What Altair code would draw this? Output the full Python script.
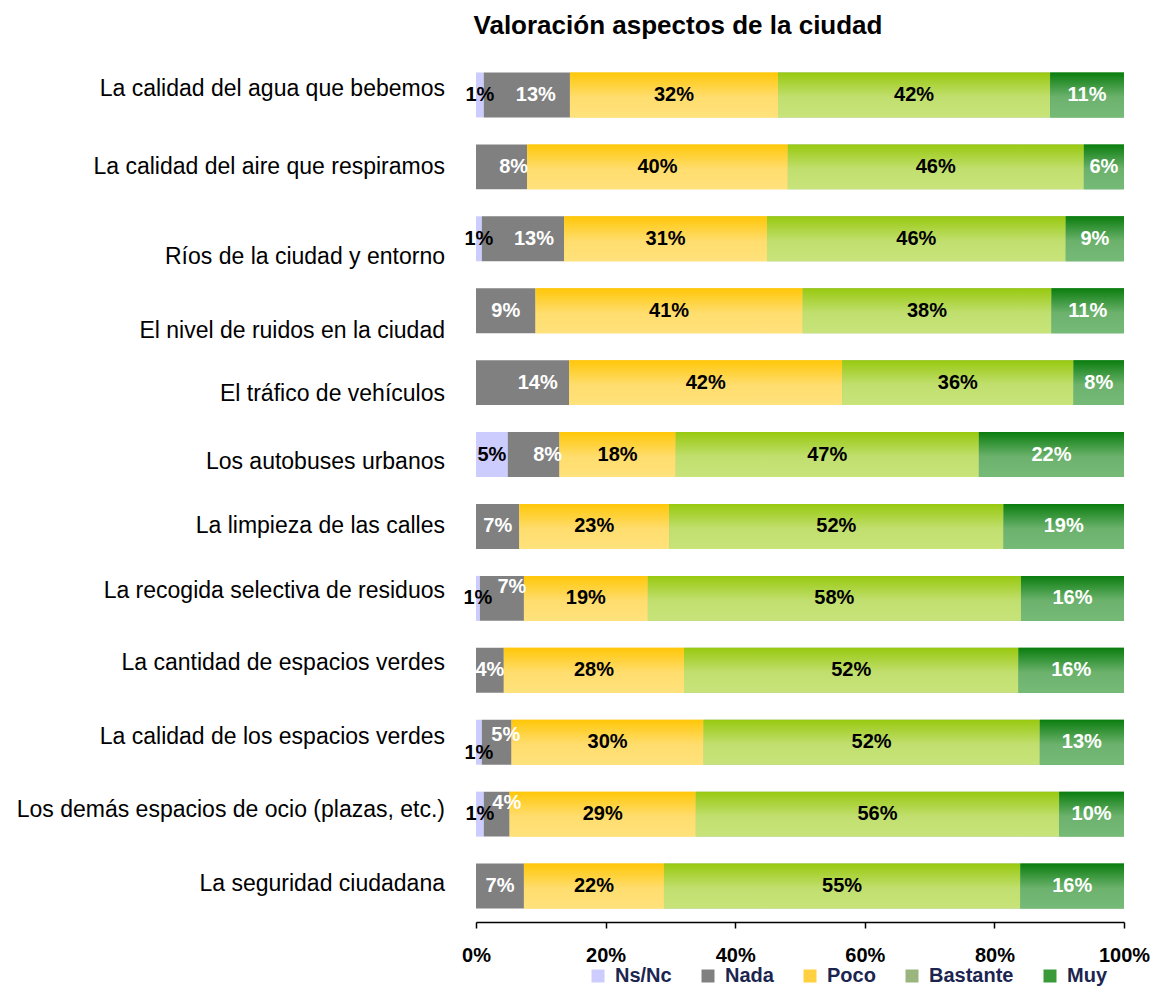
import altair as alt
import pandas as pd

# ---------------- data ----------------
categories = [
    "La calidad del agua que bebemos",
    "La calidad del aire que respiramos",
    "Ríos de la ciudad y entorno",
    "El nivel de ruidos en la ciudad",
    "El tráfico de vehículos",
    "Los autobuses urbanos",
    "La limpieza de las calles",
    "La recogida selectiva de residuos",
    "La cantidad de espacios verdes",
    "La calidad de los espacios verdes",
    "Los demás espacios de ocio (plazas, etc.)",
    "La seguridad ciudadana",
]
series = ["Ns/Nc", "Nada", "Poco", "Bastante", "Muy"]
ns_nc = [1.2, 0.0, 0.9, 0.0, 0.0, 4.9, 0.0, 0.6, 0.0, 0.9, 1.2, 0.0]
nada = [13.3, 7.9, 12.7, 9.2, 14.4, 8.0, 6.7, 6.8, 4.3, 4.6, 4.0, 7.4]
poco = [32.1, 40.2, 31.3, 41.2, 42.1, 17.9, 23.1, 19.1, 27.8, 29.6, 28.7, 21.6]
bastante = [42.0, 45.7, 46.1, 38.4, 35.7, 46.8, 51.6, 57.6, 51.6, 51.9, 56.1, 55.0]
muy = [11.4, 6.2, 9.0, 11.2, 7.8, 22.4, 18.6, 15.9, 16.3, 13.0, 10.0, 16.0]
tick_values = [0, 20, 40, 60, 80, 100]
title_text = "Valoración aspectos de la ciudad"

# ---------------- styling ----------------
FONT = "Liberation Sans"
legend_colors = ["#CCCCFF", "#808080", "#FFD040", "#9BB57F", "#3A9A3A"]
gradients = {
    "Poco": ["#FFC708", "#FFDD6E", "#FFE27C"],
    "Bastante": ["#98C90F", "#C1DF6F", "#C8E47A"],
    "Muy": ["#0A7D0E", "#6CB26D", "#76BA78"],
}
white_series = ["Nada", "Muy"]
# per-row vertical offset of the category labels (px)
cat_label_dy = [-6, 0, 18, 20, 11, 7, 0, -7, -7, -5, -4, -2]
# manual nudges of some value labels: (row, series) -> (dx, dy)
label_nudge = {
    (0, "Nada"): (9, 0), (1, "Nada"): (12, 0), (2, "Nada"): (11, 0),
    (4, "Nada"): (15, 0), (5, "Nada"): (14, 0), (7, "Nada"): (10, -11),
    (9, "Nada"): (9, -7), (9, "Ns/Nc"): (0, 11), (10, "Nada"): (10, -11),
}

# ---------------- table ----------------
vals = {"Ns/Nc": ns_nc, "Nada": nada, "Poco": poco, "Bastante": bastante, "Muy": muy}
rows = []
for i, c in enumerate(categories):
    start = 0.0
    for s in series:
        v = vals[s][i]
        dx, dy = label_nudge.get((i, s), (0, 0))
        rows.append({
            "cat": c, "series": s, "value": v, "start": start, "end": start + v,
            "label": f"{round(v):d}%" if v >= 0.5 else "",
            "dx": dx, "dy": dy,
        })
        start += v
df = pd.DataFrame(rows)

# ---------------- encodings ----------------
x_enc = alt.X(
    "start:Q",
    scale=alt.Scale(domain=[0, 100], nice=False, zero=True),
    axis=alt.Axis(
        values=tick_values, labelExpr="datum.value + '%'", title=None, grid=False,
        domainColor="black", domainWidth=1.5, tickColor="black", tickWidth=1.5,
        tickSize=6, labelFont=FONT, labelFontSize=20, labelFontWeight="bold",
        labelColor="black", labelPadding=17, labelFlush=False, labelOverlap=False,
    ),
)
y_enc = alt.Y(
    "cat:N",
    axis=None,
    scale=alt.Scale(domain=categories, paddingInner=0.375, paddingOuter=0.1875),
)

base = alt.Chart(df).mark_bar().encode(
    x=x_enc, x2="end:Q", y=y_enc,
    color=alt.Color(
        "series:N",
        scale=alt.Scale(domain=series, range=legend_colors),
        legend=alt.Legend(
            title=None, orient="none", legendX=112, legendY=907,
            direction="horizontal", symbolType="square", symbolSize=169,
            symbolStrokeWidth=0, labelFont=FONT, labelFontSize=20,
            labelFontWeight="bold", labelColor="#1B2550", columnPadding=26,
            labelOffset=7, padding=0,
        ),
    ),
)

layers = [base]
for s, cols in gradients.items():
    grad = {
        "gradient": "linear", "x1": 0, "y1": 0, "x2": 0, "y2": 1,
        "stops": [
            {"offset": 0, "color": cols[0]},
            {"offset": 0.55, "color": cols[1]},
            {"offset": 1, "color": cols[2]},
        ],
    }
    layers.append(
        alt.Chart(df).transform_filter(alt.datum.series == s)
        .mark_bar(fill=grad)
        .encode(x=x_enc, x2="end:Q", y=y_enc)
    )

# value labels
pairs = sorted(set(zip(df["dx"], df["dy"])))
for dxv, dyv in pairs:
    layers.append(
        alt.Chart(df)
        .transform_filter(f"datum.dx == {dxv} && datum.dy == {dyv} && datum.label != ''")
        .transform_calculate(mid="(datum.start + datum.end) / 2")
        .mark_text(font=FONT, fontSize=20, fontWeight="bold", dx=int(dxv), dy=int(dyv))
        .encode(
            x=alt.X("mid:Q", scale=alt.Scale(domain=[0, 100], nice=False)),
            y=y_enc,
            text="label:N",
            color=alt.condition(
                alt.FieldOneOfPredicate(field="series", oneOf=white_series),
                alt.value("white"), alt.value("black"),
            ),
        )
    )

# category labels
cat_df = pd.DataFrame({"cat": categories})
for c, off in zip(categories, cat_label_dy):
    layers.append(
        alt.Chart(cat_df)
        .transform_filter(alt.datum.cat == c)
        .mark_text(font=FONT, fontSize=23, align="right", dx=-31, dy=off, color="black")
        .encode(x=alt.datum(0), y=y_enc, text="cat:N")
    )

chart = (
    alt.layer(*layers)
    .properties(
        width=648, height=863,
        title=alt.TitleParams(
            title_text, font=FONT, fontSize=26, fontWeight="bold", color="black",
            anchor="middle", dx=-122, offset=20,
        ),
        autosize=alt.AutoSizeParams(type="none"),
        padding={"left": 468, "top": 51, "right": 28, "bottom": 64},
    )
    .configure_view(stroke=None)
)

chart.save("out.html", embed_options={"renderer": "svg", "actions": False})
